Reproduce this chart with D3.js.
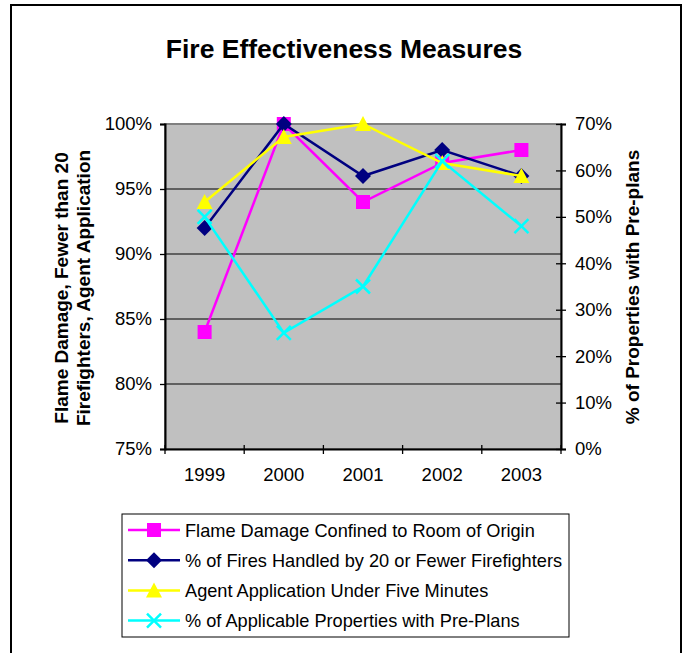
<!DOCTYPE html>
<html>
<head>
<meta charset="utf-8">
<script src="https://cdn.jsdelivr.net/npm/d3@7"></script>
<style>
  body { margin: 0; background: #fff; }
  text { font-family: "Liberation Sans", Arial, sans-serif; }
</style>
</head>
<body>
<div id="chart"></div>
<script>
var years = ["1999", "2000", "2001", "2002", "2003"];
var flameDamage = [0.84, 1.00, 0.94, 0.97, 0.98];
var fewerFirefighters = [0.92, 1.00, 0.96, 0.98, 0.96];
var agentApplication = [0.94, 0.99, 1.00, 0.97, 0.96];
var preplans = [0.50, 0.25, 0.35, 0.62, 0.48];
var leftTicks = [0.75, 0.80, 0.85, 0.90, 0.95, 1.00];
var rightTicks = [0, 0.1, 0.2, 0.3, 0.4, 0.5, 0.6, 0.7];

var series = [
  { name: "Flame Damage Confined to Room of Origin", values: flameDamage, color: "#ff00ff", marker: "square", axis: "left" },
  { name: "% of Fires Handled by 20 or Fewer Firefighters", values: fewerFirefighters, color: "#000080", marker: "diamond", axis: "left" },
  { name: "Agent Application Under Five Minutes", values: agentApplication, color: "#ffff00", marker: "triangle", axis: "left" },
  { name: "% of Applicable Properties with Pre-Plans", values: preplans, color: "#00ffff", marker: "x", axis: "right" }
];

var width = 686, height = 653;
var plot = { left: 165, top: 124, right: 561, bottom: 449 };

var svg = d3.select("#chart").append("svg")
  .attr("width", width)
  .attr("height", height);

// outer frame
svg.append("path")
  .attr("d", "M11,653 V5 H681 V653")
  .attr("fill", "none")
  .attr("stroke", "#000")
  .attr("stroke-width", 2);

svg.append("text")
  .attr("x", 344).attr("y", 58)
  .attr("text-anchor", "middle")
  .attr("font-size", 26.5).attr("font-weight", "bold")
  .text("Fire Effectiveness Measures");

var x = d3.scaleBand().domain(years).range([plot.left, plot.right]);
var yLeft = d3.scaleLinear().domain([0.75, 1.0]).range([plot.bottom, plot.top]);
var yRight = d3.scaleLinear().domain([0, 0.7]).range([plot.bottom, plot.top]);

svg.append("rect")
  .attr("x", plot.left).attr("y", plot.top)
  .attr("width", plot.right - plot.left).attr("height", plot.bottom - plot.top)
  .attr("fill", "#c0c0c0")
  .attr("stroke", "#808080").attr("stroke-width", 2);

// gridlines
svg.selectAll(".grid")
  .data(leftTicks.slice(1, -1))
  .enter().append("line")
  .attr("class", "grid")
  .attr("x1", plot.left).attr("x2", plot.right)
  .attr("y1", function (d) { return yLeft(d); })
  .attr("y2", function (d) { return yLeft(d); })
  .attr("stroke", "#000").attr("stroke-width", 1);

var pct = d3.format(".0%");

var leftAxis = svg.append("g")
  .attr("transform", "translate(" + plot.left + ",0)")
  .call(d3.axisLeft(yLeft).tickValues(leftTicks).tickFormat(pct).tickSizeOuter(0).tickSize(5).tickPadding(8));

var rightAxis = svg.append("g")
  .attr("transform", "translate(" + plot.right + ",0)")
  .call(d3.axisRight(yRight).tickValues(rightTicks).tickFormat(pct).tickSizeOuter(0).tickSize(5).tickPadding(9));
rightAxis.selectAll(".tick line").attr("x1", -5);

var bottomAxis = svg.append("g")
  .attr("transform", "translate(0," + plot.bottom + ")")
  .call(d3.axisBottom(x).tickSize(0).tickPadding(19));

// category boundary ticks
var bounds = years.map(function (d) { return x(d); }).concat([plot.right]);
svg.selectAll(".xtick")
  .data(bounds)
  .enter().append("line")
  .attr("class", "xtick")
  .attr("x1", function (d) { return d; }).attr("x2", function (d) { return d; })
  .attr("y1", plot.bottom - 4).attr("y2", plot.bottom + 5)
  .attr("stroke", "#000").attr("stroke-width", 1.3);

[leftAxis, rightAxis, bottomAxis].forEach(function (g) {
  g.attr("font-size", 18.5).attr("font-family", "'Liberation Sans', Arial, sans-serif");
  g.selectAll(".domain").attr("stroke", "#000").attr("stroke-width", 2);
  g.selectAll(".tick line").attr("stroke", "#000").attr("stroke-width", 1.3);
  g.selectAll("text").attr("fill", "#000");
});

// axis titles
var lt = svg.append("text")
  .attr("transform", "translate(67.5,288) rotate(-90)")
  .attr("text-anchor", "middle")
  .attr("font-size", 19).attr("font-weight", "bold");
lt.append("tspan").attr("x", 0).attr("dy", 0).text("Flame Damage, Fewer than 20");
lt.append("tspan").attr("x", 0).attr("dy", 22.5).text("Firefighters, Agent Application");

svg.append("text")
  .attr("transform", "translate(638.5,287) rotate(-90)")
  .attr("text-anchor", "middle")
  .attr("font-size", 19).attr("font-weight", "bold")
  .text("% of Properties with Pre-plans");

function drawMarker(g, type, color) {
  if (type === "square") {
    g.append("rect").attr("x", -7).attr("y", -7).attr("width", 14).attr("height", 14).attr("fill", color);
  } else if (type === "diamond") {
    g.append("path").attr("d", "M0,-8 L8,0 L0,8 L-8,0 Z").attr("fill", color);
  } else if (type === "triangle") {
    g.append("path").attr("d", "M0,-8 L8,7 L-8,7 Z").attr("fill", color);
  } else {
    g.append("path").attr("d", "M-7,-7 L7,7 M7,-7 L-7,7")
      .attr("stroke", color).attr("stroke-width", 2.5).attr("fill", "none");
  }
}

series.forEach(function (s) {
  var yScale = s.axis === "left" ? yLeft : yRight;
  var pts = s.values.map(function (v, i) {
    return [x(years[i]) + x.bandwidth() / 2, yScale(v)];
  });
  svg.append("path")
    .attr("d", d3.line()(pts))
    .attr("fill", "none")
    .attr("stroke", s.color)
    .attr("stroke-width", 2.5);
  pts.forEach(function (p) {
    drawMarker(svg.append("g").attr("transform", "translate(" + p[0] + "," + p[1] + ")"), s.marker, s.color);
  });
});

// legend
var legend = svg.append("g");
legend.append("rect")
  .attr("x", 122).attr("y", 514).attr("width", 447).attr("height", 123)
  .attr("fill", "#fff").attr("stroke", "#000").attr("stroke-width", 1);

series.forEach(function (s, i) {
  var cy = 530 + i * 30.2;
  legend.append("line")
    .attr("x1", 128).attr("x2", 180).attr("y1", cy).attr("y2", cy)
    .attr("stroke", s.color).attr("stroke-width", 2.5);
  drawMarker(legend.append("g").attr("transform", "translate(154," + cy + ")"), s.marker, s.color);
  legend.append("text")
    .attr("x", 185).attr("y", cy + 6.5)
    .attr("font-size", 18.2)
    .text(s.name);
});
</script>
</body>
</html>
